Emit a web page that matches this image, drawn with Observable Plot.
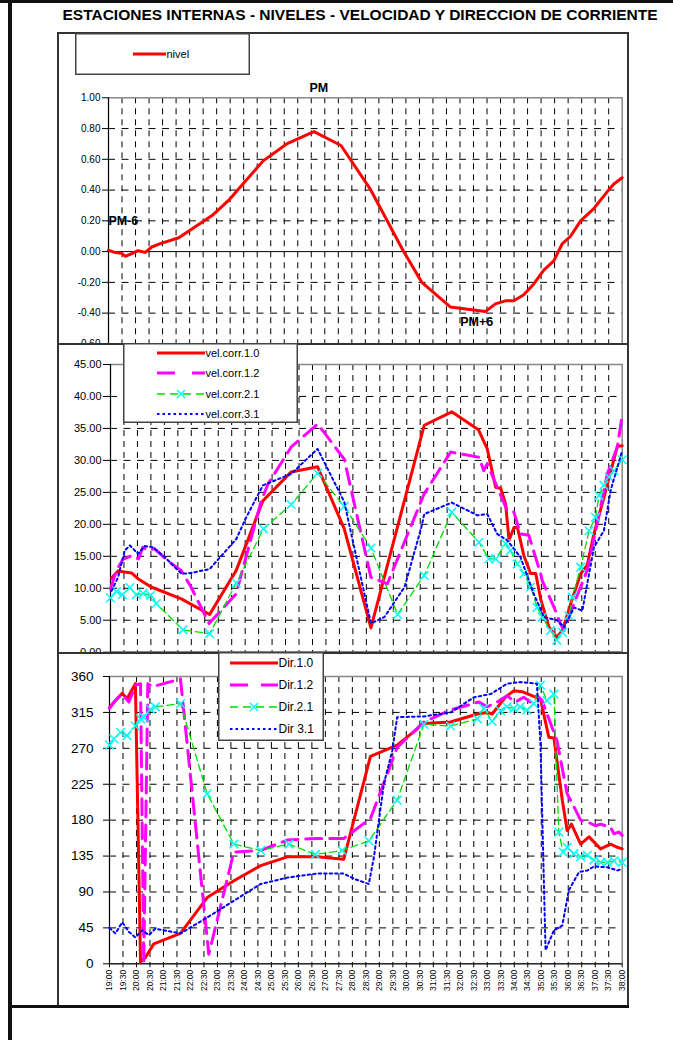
<!DOCTYPE html>
<html><head><meta charset="utf-8">
<script src="https://cdn.jsdelivr.net/npm/d3@7"></script>
<script src="https://cdn.jsdelivr.net/npm/@observablehq/plot@0.6"></script>
<style>
body{margin:0;background:#fff;font-family:"Liberation Sans",Arial,sans-serif;}
#wrap{position:relative;width:673px;height:1040px;overflow:hidden;background:#fff}
.box{position:absolute;background:#fff;border:2px solid #333;box-sizing:border-box}
.line{position:absolute;background:#111}
#title{position:absolute;left:0;width:720px;top:6px;text-align:center;font-weight:bold;font-size:15.5px;white-space:nowrap}
</style></head>
<body><div id="wrap"></div>
<script>
// ---------- DATA (time in decimal hours, 19.0 = 19:00) ----------
const nivelT = [19.0,19.22,19.47,19.62,19.84,20.09,20.36,20.6,20.89,21.6,22.87,23.48,24.72,25.59,26.6,27.6,28.67,29.9,30.59,31.64,32.94,33.31,33.68,33.99,34.36,34.73,35.1,35.47,35.78,36.09,36.46,36.95,37.45,37.69,38.0];
const nivelV = [0.01,-0.005,-0.01,-0.03,-0.015,0.006,-0.005,0.03,0.05,0.09,0.24,0.34,0.59,0.70,0.78,0.69,0.41,0.006,-0.20,-0.36,-0.39,-0.34,-0.32,-0.32,-0.28,-0.21,-0.12,-0.06,0.05,0.10,0.20,0.28,0.39,0.44,0.48];

const vel10T = [19.04,19.28,19.78,20.02,20.51,21.63,22.68,23.67,24.66,25.71,26.69,27.68,28.67,30.65,31.67,32.66,32.99,33.3,33.49,33.67,33.8,33.98,34.11,34.35,34.6,34.79,34.97,35.28,35.57,35.78,36.09,36.46,36.7,36.95,37.32,37.82,38.0];
const vel10V = [11.6,12.7,12.4,11.5,10.2,8.35,5.9,12.8,23.7,28.2,29.0,19.3,3.8,35.5,37.6,34.8,31.8,25.8,25.6,23.2,17.5,19.5,19.5,15.1,12.3,12.3,8.35,3.9,2.35,3.4,7.6,12.3,13.6,18.5,24.2,32.2,32.3];
const vel12T = [19.0,19.22,19.46,19.78,20.04,20.2,20.41,20.63,21.12,21.62,21.99,22.66,23.66,24.6,24.85,25.71,26.69,27.68,28.67,29.28,30.65,31.63,32.68,32.86,32.99,33.36,33.73,33.98,34.22,34.53,34.97,35.03,35.47,35.71,35.84,36.21,36.7,37.07,37.45,37.82,38.0];
const vel12V = [9.9,12.8,14.5,15.1,14.6,16.4,15.9,16.2,14.3,12.8,10.2,4.5,9.1,23.7,26.3,32.1,35.7,30.2,11.7,10.7,24.8,31.3,30.5,28.4,29.5,25.8,22.2,21.9,18.5,18.3,12.3,11.2,7.0,4.4,3.4,7.6,12.8,20.1,27.9,32.1,37.0];
const vel21T = [19.0,19.22,19.44,19.72,19.96,20.21,20.49,20.7,21.69,22.68,23.67,24.68,25.71,26.69,27.68,28.67,29.66,30.65,31.67,32.68,33.05,33.3,33.67,33.85,34.1,34.35,34.6,34.84,35.03,35.34,35.57,35.78,36.02,36.15,36.46,36.77,37.01,37.14,37.32,37.51,37.69,38.0];
const vel21V = [8.5,9.5,9.0,10.1,9.0,9.2,8.9,7.6,3.5,2.9,10.8,19.3,23.1,28.0,22.8,16.3,5.9,12.0,21.9,17.2,14.6,14.6,17.0,15.9,13.8,12.3,10.2,7.0,5.5,3.4,1.9,3.1,5.7,8.6,13.3,19.0,21.1,24.5,26.1,27.4,28.4,30.1];
const vel31T = [19.04,19.28,19.53,19.72,20.02,20.27,20.58,21.01,21.63,21.88,22.68,23.67,24.04,24.66,25.71,26.69,27.68,28.67,29.17,29.92,30.54,30.65,31.67,32.63,32.99,33.36,33.73,34.22,34.72,35.09,35.58,35.84,36.21,36.52,36.95,37.32,37.57,38.0];
const vel31V = [9.6,11.7,15.9,16.7,15.4,16.6,16.4,14.9,12.3,12.3,13.0,17.7,21.1,26.1,27.9,31.8,23.5,4.5,5.5,10.2,19.5,21.6,23.4,21.4,21.6,18.5,17.5,14.9,9.1,5.5,5.0,3.9,7.0,6.5,16.4,19.0,25.3,31.5];

const dir10T = [19.0,19.22,19.47,19.65,19.96,20.15,20.33,20.64,21.63,22.62,23.61,24.6,25.59,26.69,27.68,28.67,29.66,30.65,31.64,32.63,33.0,33.18,33.67,33.98,34.29,34.72,34.97,35.28,35.47,35.78,35.96,36.12,36.46,36.77,37.2,37.57,37.82,38.0];
const dir10V = [321,330,339,332,351,2,8,25,38,83,104,123,134,134,131,260,274,301,303,313,315,313,334,342,341,335,332,284,283,205,167,175,150,159,144,150,146,144];
const dir12T = [19.0,19.22,19.47,19.72,19.96,20.15,20.27,20.42,20.58,21.63,22.68,23.61,24.6,25.59,26.69,27.68,28.67,29.66,30.65,31.64,32.69,33.0,33.36,33.73,34.04,34.35,34.6,34.84,35.03,35.58,35.96,36.15,36.46,36.77,37.01,37.2,37.57,37.69,37.88,38.0];
const dir12V = [320,330,338,328,349,351,0,351,347,357,12,140,142,155,157,157,182,271,303,318,328,322,328,336,328,334,328,336,330,280,213,201,180,177,173,175,171,163,165,161];
const dir21T = [19.0,19.16,19.41,19.65,19.96,20.15,20.27,20.52,20.7,21.63,22.62,23.61,24.6,25.65,26.63,27.62,28.61,29.66,30.65,31.64,32.63,32.87,33.18,33.49,33.73,33.98,34.22,34.47,34.72,34.97,35.21,35.47,35.65,35.81,35.96,36.21,36.46,36.71,36.95,37.2,37.45,37.69,38.0];
const dir21V = [274,282,290,286,298,307,309,319,322,326,213,150,142,150,137,142,154,205,300,298,307,320,304,317,322,320,322,318,326,349,330,338,165,140,146,138,134,136,130,127,127,129,127];
const dir31T = [19.0,19.22,19.47,19.72,19.96,20.21,20.46,20.7,21.63,22.62,23.61,24.6,25.59,26.69,27.68,28.1,28.61,28.8,29.17,29.48,29.66,30.65,31.64,32.51,33.13,33.73,34.22,34.84,34.97,35.16,35.47,35.78,36.02,36.4,36.71,36.95,37.45,37.82,38.0];
const dir31V = [45,38,52,40,33,42,36,44,38,58,79,100,108,113,113,106,100,134,226,267,309,310,315,334,338,351,353,351,276,17,42,48,92,115,117,122,121,117,119];

const timeTicks = d3.range(19, 38.001, 0.5);
const nivelTicks = [-0.6,-0.4,-0.2,0,0.2,0.4,0.6,0.8,1.0];
const velTicks = d3.range(0, 45.001, 5);
const dirTicks = d3.range(0, 360.001, 45);
const annotations = [{t:26.78, v:1.065, label:"PM"}, {t:19.55, v:0.20, label:"PM-6"}, {t:32.62, v:-0.455, label:"PM+6"}];

// ---------- helpers ----------
const wrap = document.getElementById("wrap");
const zip = (T, V) => T.map((t, i) => ({t, v: V[i]}));
const fmtTime = t => `${Math.floor(t)}:${(Math.round(t*2) % 2) ? "30" : "00"}`;
const innerTicks = timeTicks.filter(t => t > 19 && t < 38);
function box(left, top, w, h){ const d=document.createElement("div"); d.className="box"; Object.assign(d.style,{left:left+"px",top:top+"px",width:w+"px",height:h+"px"}); wrap.appendChild(d); }
function line(left, top, w, h){ const d=document.createElement("div"); d.className="line"; Object.assign(d.style,{left:left+"px",top:top+"px",width:w+"px",height:h+"px"}); wrap.appendChild(d); }
function place(el, top){ el.style.position="absolute"; el.style.left="0px"; el.style.top=top+"px"; wrap.appendChild(el); }
function legend(left, top, w, h, items, fs){
  const svg = d3.create("svg").attr("width", w).attr("height", h)
    .style("position","absolute").style("left", left+"px").style("top", top+"px");
  svg.append("rect").attr("x",0.75).attr("y",0.75).attr("width",w-1.5).attr("height",h-1.5)
    .attr("fill","#fff").attr("stroke","#444").attr("stroke-width",1.5);
  for (const it of items) {
    svg.append("line").attr("x1", it.x1-left).attr("x2", it.x2-left).attr("y1", it.y-top).attr("y2", it.y-top)
      .attr("stroke", it.stroke).attr("stroke-width", it.sw).attr("stroke-dasharray", it.dash || null);
    if (it.marker) {
      const cx = (it.x1+it.x2)/2-left, cy = it.y-top, r=4;
      svg.append("path").attr("d",`M${cx-r},${cy-r}L${cx+r},${cy+r}M${cx-r},${cy+r}L${cx+r},${cy-r}`)
        .attr("stroke","#00FFFF").attr("stroke-width",1.5);
    }
    svg.append("text").attr("x", it.x2-left+0.5).attr("y", it.y-top).attr("dy","0.35em")
      .attr("font-size", fs).attr("font-family","Liberation Sans, Arial, sans-serif").text(it.label);
  }
  wrap.appendChild(svg.node());
}
const gridV = () => Plot.ruleX(innerTicks, {stroke:"#000", strokeWidth:1, strokeDasharray:"6,5"});
const gridH = ticks => Plot.ruleY(ticks, {stroke:"#000", strokeWidth:1, strokeDasharray:"7,6.5"});
const common = {width:673, style:{background:"transparent", overflow:"visible", fontFamily:"Liberation Sans, Arial, sans-serif"}};
const styles = {
  s10: {stroke:"#FF0000", strokeWidth:3},
  s12: {stroke:"#FF00FF", strokeWidth:3, strokeDasharray:"16,8"},
  s21: {stroke:"#00DD00", strokeWidth:1.3, strokeDasharray:"7,4"},
  s31: {stroke:"#0000FF", strokeWidth:2, strokeDasharray:"2.5,3"}
};
const xmark = data => Plot.dot(data, {x:"t", y:"v", symbol:"times", r:4, stroke:"#00FFFF", strokeWidth:1.5});

// ---------- PANEL 1 : nivel ----------
box(57, 32, 572, 313);
const p1 = Plot.plot({...common, height:360, marginTop:97.3, marginBottom:16.6, marginLeft:108, marginRight:51.3,
  x:{domain:[19,38], axis:null},
  y:{domain:[-0.6,1.0], axis:null},
  marks:[
    gridV(), gridH([-0.4,-0.2,0.2,0.4,0.6,0.8]),
    Plot.frame({stroke:"#888", strokeWidth:1.5}),
    Plot.ruleY([0], {stroke:"#000"}), Plot.ruleX([19], {stroke:"#000"}),
    Plot.axisY({ticks:nivelTicks, tickFormat:d=>d.toFixed(2), tickSize:6, tickPadding:2, fontSize:10, color:"#000", label:null}),
    Plot.line(zip(nivelT, nivelV), {x:"t", y:"v", ...styles.s10}),
    Plot.text(annotations, {x:"t", y:"v", text:"label", fontWeight:"bold", fontSize:12.5, fill:"#000"})
  ]});
place(p1, 0);
legend(75, 33, 175, 42, [{label:"nivel", y:54, x1:133, x2:166, stroke:"#FF0000", sw:3}], 11);

// ---------- PANEL 2 : velocidad ----------
box(57, 343, 572, 311);
const p2 = Plot.plot({...common, height:324, marginTop:21, marginBottom:15.3, marginLeft:110, marginRight:51.3,
  x:{domain:[19,38], axis:null},
  y:{domain:[0,45], axis:null},
  marks:[
    gridV(), gridH(d3.range(5, 41, 5)),
    Plot.frame({stroke:"#888", strokeWidth:1.5}),
    Plot.ruleY([0], {stroke:"#000"}), Plot.ruleX([19], {stroke:"#000"}),
    Plot.axisY({ticks:velTicks, tickFormat:d=>d.toFixed(2), tickSize:7, tickPadding:2, fontSize:11, color:"#000", label:null}),
    Plot.line(zip(vel10T, vel10V), {x:"t", y:"v", ...styles.s10}),
    Plot.line(zip(vel12T, vel12V), {x:"t", y:"v", ...styles.s12}),
    Plot.line(zip(vel21T, vel21V), {x:"t", y:"v", ...styles.s21}),
    xmark(zip(vel21T, vel21V)),
    Plot.line(zip(vel31T, vel31V), {x:"t", y:"v", ...styles.s31})
  ]});
place(p2, 343);
legend(123, 343, 175, 80, [
  {label:"vel.corr.1.0", y:353, x1:157, x2:205, stroke:"#FF0000", sw:3},
  {label:"vel.corr.1.2", y:373, x1:157, x2:205, stroke:"#FF00FF", sw:3, dash:"18,17"},
  {label:"vel.corr.2.1", y:394, x1:157, x2:205, stroke:"#00DD00", sw:1.3, dash:"8,5", marker:true},
  {label:"vel.corr.3.1", y:414, x1:157, x2:205, stroke:"#0000FF", sw:2, dash:"2.5,3"}
], 11);

// ---------- PANEL 3 : direccion ----------
box(57, 652, 572, 356);
const p3 = Plot.plot({...common, height:354, marginTop:24, marginBottom:42.7, marginLeft:109, marginRight:51.3,
  x:{domain:[19,38], axis:null},
  y:{domain:[0,360], axis:null},
  marks:[
    gridV(), gridH(d3.range(45, 316, 45)),
    Plot.frame({stroke:"#888", strokeWidth:1.5}),
    Plot.ruleY([0], {stroke:"#000"}), Plot.ruleX([19], {stroke:"#000"}),
    Plot.axisY({ticks:dirTicks, tickFormat:d=>String(d), tickSize:6, tickPadding:10, fontSize:13.5, color:"#000", label:null}),
    Plot.axisX({ticks:timeTicks, tickFormat:fmtTime, tickRotate:-90, tickSize:4, tickPadding:2, fontSize:8.5, color:"#000", label:null}),
    Plot.line(zip(dir10T, dir10V), {x:"t", y:"v", ...styles.s10}),
    Plot.line(zip(dir12T, dir12V), {x:"t", y:"v", ...styles.s12}),
    Plot.line(zip(dir21T, dir21V), {x:"t", y:"v", ...styles.s21}),
    xmark(zip(dir21T, dir21V)),
    Plot.line(zip(dir31T, dir31V), {x:"t", y:"v", ...styles.s31})
  ]});
place(p3, 652);
legend(218, 652, 106, 89, [
  {label:"Dir.1.0", y:663, x1:230, x2:278, stroke:"#FF0000", sw:3},
  {label:"Dir.1.2", y:685, x1:230, x2:278, stroke:"#FF00FF", sw:3, dash:"18,13"},
  {label:"Dir.2.1", y:707, x1:230, x2:278, stroke:"#00DD00", sw:1.3, dash:"8,5", marker:true},
  {label:"Dir 3.1", y:729, x1:230, x2:278, stroke:"#0000FF", sw:2, dash:"2.5,3"}
], 12);

// ---------- outer frame & title ----------
line(0, 0, 673, 3);
line(8, 0, 4, 1040);
line(8, 1005, 621, 3);
const title = document.createElement("div");
title.id = "title";
title.textContent = "ESTACIONES INTERNAS - NIVELES - VELOCIDAD Y DIRECCION DE CORRIENTE";
wrap.appendChild(title);
</script></body></html>
